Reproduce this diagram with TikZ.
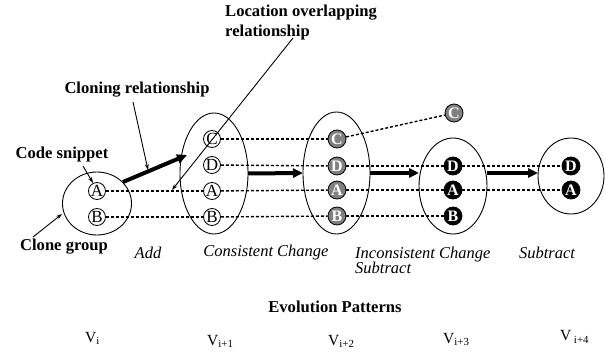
\documentclass[tikz,border=0pt]{standalone}
\usepackage{fontspec}
\setmainfont{Liberation Serif}
\usetikzlibrary{arrows.meta,shapes.geometric}
\begin{document}
\begin{tikzpicture}[x=1pt,y=-1pt,
 grp/.style={draw, ellipse, line width=0.9pt, inner sep=0pt, outer sep=0pt},
 snip/.style={draw, circle, line width=0.8pt, minimum size=17pt, inner sep=0pt, font=\fontsize{17}{17}\selectfont},
 gsnip/.style={draw, circle, fill=gray, line width=0.8pt, minimum size=18pt, inner sep=0pt, text=white, font=\bfseries\fontsize{16}{16}\selectfont},
 bsnip/.style={gsnip, fill=black},
 lbl/.style={font=\bfseries\fontsize{16.6}{20}\selectfont, inner sep=0pt},
 ilbl/.style={font=\itshape\fontsize{16.5}{15.5}\selectfont, inner sep=0pt},
 vlbl/.style={font=\fontsize{15.5}{15}\selectfont, inner sep=0pt, anchor=base west},
 link/.style={line width=1.4pt, dash pattern=on 3pt off 2pt},
 big/.style={line width=4pt, -{Triangle[length=10pt,width=9pt]}},
 ptr/.style={line width=0.9pt, -{Stealth[length=6pt,width=4pt]}}
]
\useasboundingbox (0,0) rectangle (605,355);

% clone groups
\node[grp, minimum width=69pt, minimum height=63pt] (E1) at (97,203.5) {};
\node[grp, minimum width=68pt, minimum height=121pt] (E2) at (214,173.5) {};
\node[grp, minimum width=67pt, minimum height=122pt] (E3) at (336.5,173) {};
\node[grp, minimum width=68pt, minimum height=96pt] (E4) at (453,186) {};
\node[grp, minimum width=66pt, minimum height=76pt] (E5) at (571,176) {};

% snippets
\node[snip] (A1) at (97,191) {A};
\node[snip] (B1) at (97,217) {B};
\node[snip] (C2) at (212,139) {C};
\node[snip] (D2) at (212,165) {D};
\node[snip] (A2) at (212,191) {A};
\node[snip] (B2) at (212,217) {B};
\node[gsnip] (C3) at (337,139) {C};
\node[gsnip] (D3) at (337,166) {D};
\node[gsnip] (A3) at (337,190) {A};
\node[gsnip] (B3) at (337,216) {B};
\node[gsnip] (CX) at (454,113) {C};
\node[bsnip] (D4) at (453,166) {D};
\node[bsnip] (A4) at (453,190) {A};
\node[bsnip] (B4) at (453,216) {B};
\node[bsnip] (D5) at (571,166) {D};
\node[bsnip] (A5) at (571,190) {A};

% dashed links
\draw[link] (A1) -- (A2);
\draw[link] (B1) -- (B2);
\draw[link] (C2) -- (C3);
\draw[link] (D2) -- (D3);
\draw[link] (A2) -- (A3);
\draw[link] (B2) -- (B3);
\draw[link] (C3) -- (CX);
\draw[link] (D3) -- (D4);
\draw[link] (A3) -- (A4);
\draw[link] (B3) -- (B4);
\draw[link] (D4) -- (D5);
\draw[link] (A4) -- (A5);

% thick arrows
\coordinate (t1s) at (123,182);
\coordinate (t1e) at (187,155);
\draw[big] (t1s) -- (t1e);
\draw[big] (E2.east) -- (E3.west);
\draw[big] (E3.east) -- (E3.east -| E4.west);
\draw[big] (E4.east |- E3.east) -- (E5.west |- E3.east);

% labels
\node[lbl, anchor=west, align=left] (loc) at (225,23) {Location overlapping\\relationship};
\node[lbl] (clon) at (137,90) {Cloning relationship};
\node[lbl] (code) at (62,155) {Code snippet};
\node[lbl] (cgrp) at (64,247) {Clone group};
\node[ilbl] (add) at (148,253) {Add};
\node[ilbl] (cons) at (266,253) {Consistent Change};
\node[ilbl, anchor=west, align=left] (incons) at (355,260.5) {Inconsistent Change\\Subtract};
\node[ilbl] (sub) at (547,253) {Subtract};
\node[lbl] (evo) at (335,307) {Evolution Patterns};

% pointers
\coordinate (p1s) at (133,102);
\coordinate (p1e) at (148,170);
\draw[ptr] (p1s) -- (p1e);
\coordinate (p2s) at (293,38);
\coordinate (p2e) at (172,190);
\draw[ptr] (p2s) -- (p2e);
\coordinate (p3s) at (83,166);
\coordinate (p3e) at (93,183);
\draw[ptr] (p3s) -- (p3e);
\coordinate (p4s) at (33,237);
\coordinate (p4e) at (62,214);
\draw[ptr] (p4s) -- (p4e);

% versions
\node[vlbl] (v0) at (85,342) {V\textsubscript{i}};
\node[vlbl] (v1) at (207,345) {V\textsubscript{i+1}};
\node[vlbl] (v2) at (328,345) {V\textsubscript{i+2}};
\node[vlbl] (v3) at (443,343) {V\textsubscript{i+3}};
\node[vlbl] (v4) at (560,341) {V\,\textsubscript{i+4}};
\end{tikzpicture}
\end{document}
